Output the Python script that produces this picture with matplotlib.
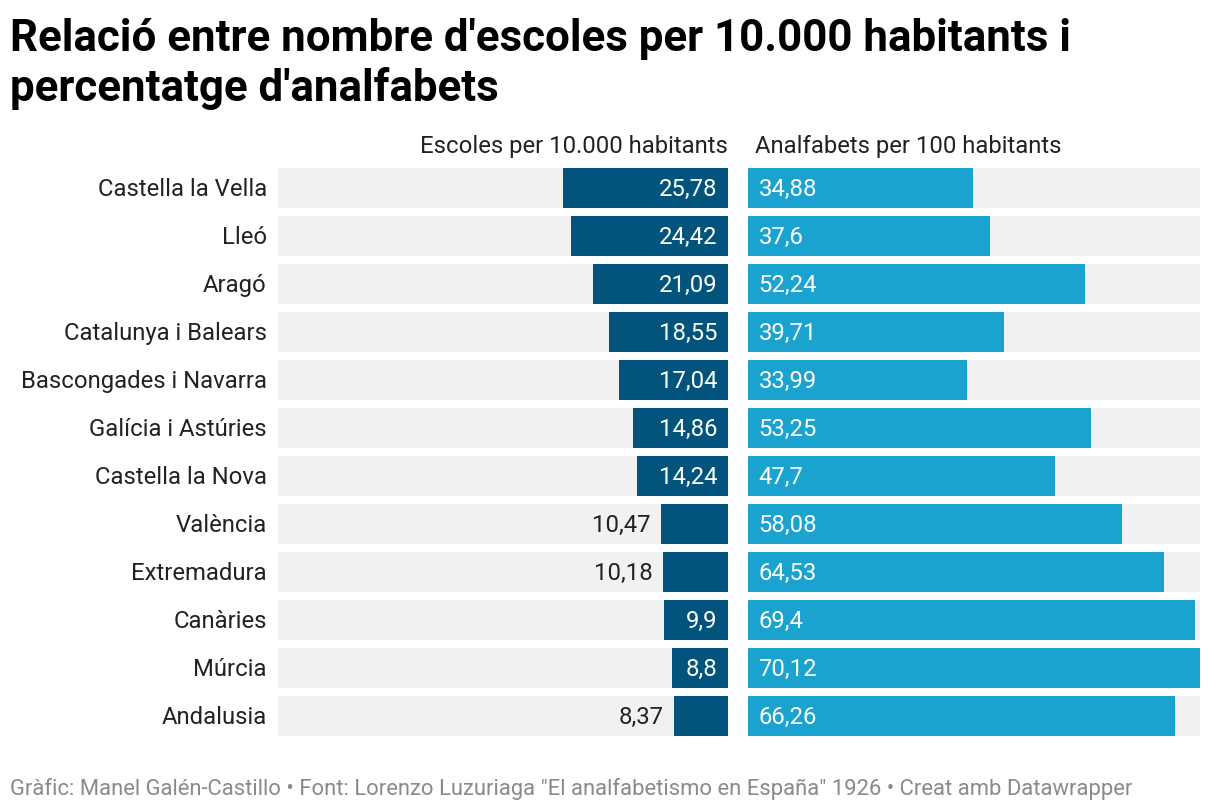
import matplotlib
matplotlib.use("Agg")
import matplotlib.pyplot as plt
from matplotlib.textpath import TextPath
from matplotlib.font_manager import FontProperties

regions = ["Castella la Vella", "Lleó", "Aragó", "Catalunya i Balears",
           "Bascongades i Navarra", "Galícia i Astúries", "Castella la Nova",
           "València", "Extremadura", "Canàries", "Múrcia", "Andalusia"]
escoles = [25.78, 24.42, 21.09, 18.55, 17.04, 14.86, 14.24, 10.47, 10.18, 9.9, 8.8, 8.37]
analfabets = [34.88, 37.6, 52.24, 39.71, 33.99, 53.25, 47.7, 58.08, 64.53, 69.4, 70.12, 66.26]

title = "Relació entre nombre d'escoles per 10.000 habitants i\npercentatge d'analfabets"
head_left = "Escoles per 10.000 habitants"
head_right = "Analfabets per 100 habitants"
footer = "Gràfic: Manel Galén-Castillo • Font: Lorenzo Luzuriaga \"El analfabetismo en España\" 1926 • Creat amb Datawrapper"

plt.rcParams['font.family'] = ['Roboto', 'DejaVu Sans']

W, H = 1220, 812
fig = plt.figure(figsize=(W / 100, H / 100), dpi=100)
fig.patch.set_facecolor("white")

def px_axes(x0, y0, x1, y1):
    return fig.add_axes([x0 / W, 1 - y1 / H, (x1 - x0) / W, (y1 - y0) / H])

DARK = "#03547c"
LIGHT = "#1aa3cf"
BG = "#f1f1f1"
vmax = max(max(escoles), max(analfabets))
n = len(regions)
pitch = 48.0
bh = 40 / pitch
top_px, bot_px = 168.5, 736.5

axL = px_axes(278, top_px, 728, bot_px)
axR = px_axes(748, top_px, 1200, bot_px)
for ax in (axL, axR):
    ax.set_ylim(n - 1 + bh / 2, -bh / 2)
    ax.axis("off")
axL.set_xlim(vmax, 0)
axR.set_xlim(0, vmax)

ys = list(range(n))
axL.barh(ys, [vmax] * n, height=bh, color=BG, lw=0)
axR.barh(ys, [vmax] * n, height=bh, color=BG, lw=0)
axL.barh(ys, escoles, height=bh, color=DARK, lw=0)
axR.barh(ys, analfabets, height=bh, color=LIGHT, lw=0)

fs_lab = 17.2
fp = FontProperties(family="Roboto", size=fs_lab)
px_per_unit = 450 / vmax
def fmt(v):
    s = ("%.2f" % v).rstrip("0").rstrip(".")
    return s.replace(".", ",")

off = 7.5
for i, v in enumerate(escoles):
    lab = fmt(v)
    tw = TextPath((0, 0), lab, prop=fp).get_extents().width * 100 / 72
    barw = v * px_per_unit
    if barw >= tw + 18:
        axL.annotate(lab, (0, i + 0.02), xytext=(-off, 0), textcoords="offset points",
                     ha="right", va="center", color="white", fontsize=fs_lab)
    else:
        axL.annotate(lab, (v, i + 0.02), xytext=(-off, 0), textcoords="offset points",
                     ha="right", va="center", color="#222222", fontsize=fs_lab)
for i, v in enumerate(analfabets):
    axR.annotate(fmt(v), (0, i + 0.02), xytext=(off, 0), textcoords="offset points",
                 ha="left", va="center", color="white", fontsize=fs_lab)
for i, r in enumerate(regions):
    axL.annotate(r, (vmax, i + 0.02), xytext=(-8, 0), textcoords="offset points",
                 ha="right", va="center", color="#222222", fontsize=fs_lab)

fig.text(728 / W, 1 - 146 / H, head_left, ha="right", va="center", fontsize=17.2, color="#222222")
fig.text(755 / W, 1 - 146 / H, head_right, ha="left", va="center", fontsize=17.2, color="#222222")
fig.text(10 / W, 1 - 64 / H, title, ha="left", va="center", fontsize=31.6, fontweight="bold",
         color="black", linespacing=1.2)
fig.text(10 / W, 1 - 789 / H, footer, ha="left", va="center", fontsize=15.8, color="#8a8a8a")

fig.savefig("out.png", dpi=100, facecolor="white")
